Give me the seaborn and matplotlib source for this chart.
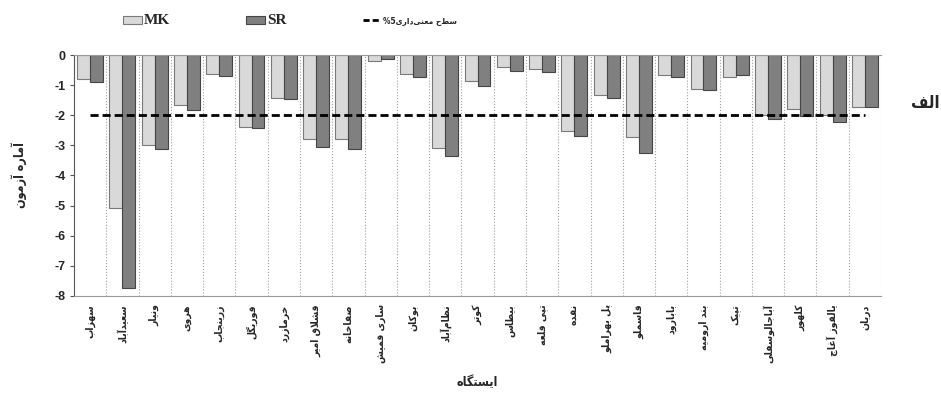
import numpy as np
import pandas as pd
import matplotlib
matplotlib.use("Agg")
import matplotlib.pyplot as plt
from matplotlib.patches import Patch
from matplotlib.lines import Line2D
import seaborn as sns

# station names (logical order, Persian)
stations = [
    "سهزاب", "سعیدآباد", "ونیار", "هروی", "زرینجاب", "قوریگل", "خرمازرد",
    "قشلاق امیر", "صفاخانه", "ساری قمیش", "بوکان", "نظام‌آباد", "کوتر",
    "بیطاس", "تپی قلعه", "نقده", "پل بهراملو", "قاسملو", "بابارود",
    "بند ارومیه", "تپیک", "آباجالوسفلی", "کلهور", "یالقوز آغاج", "دریان",
]
mk_values = [-0.78, -5.08, -2.99, -1.66, -0.63, -2.38, -1.42, -2.80, -2.80,
             -0.19, -0.62, -3.10, -0.85, -0.41, -0.45, -2.52, -1.34, -2.71,
             -0.68, -1.13, -0.72, -1.98, -1.80, -2.00, -1.72]
sr_values = [-0.90, -7.73, -3.12, -1.83, -0.70, -2.44, -1.46, -3.06, -3.12,
             -0.13, -0.72, -3.34, -1.02, -0.54, -0.55, -2.68, -1.42, -3.27,
             -0.72, -1.17, -0.65, -2.12, -2.03, -2.21, -1.72]
sig_level = -2
y_ticks = [0, -1, -2, -3, -4, -5, -6, -7, -8]

# arabic presentation forms: isolated, final, initial, medial
FORMS = {
    "ا": ("\uFE8D", "\uFE8E", None, None),
    "آ": ("\uFE81", "\uFE82", None, None),
    "ب": ("\uFE8F", "\uFE90", "\uFE91", "\uFE92"),
    "پ": ("\uFB56", "\uFB57", "\uFB58", "\uFB59"),
    "ت": ("\uFE95", "\uFE96", "\uFE97", "\uFE98"),
    "ج": ("\uFE9D", "\uFE9E", "\uFE9F", "\uFEA0"),
    "خ": ("\uFEA5", "\uFEA6", "\uFEA7", "\uFEA8"),
    "د": ("\uFEA9", "\uFEAA", None, None),
    "ر": ("\uFEAD", "\uFEAE", None, None),
    "ز": ("\uFEAF", "\uFEB0", None, None),
    "س": ("\uFEB1", "\uFEB2", "\uFEB3", "\uFEB4"),
    "ش": ("\uFEB5", "\uFEB6", "\uFEB7", "\uFEB8"),
    "ص": ("\uFEB9", "\uFEBA", "\uFEBB", "\uFEBC"),
    "ط": ("\uFEC1", "\uFEC2", "\uFEC3", "\uFEC4"),
    "ظ": ("\uFEC5", "\uFEC6", "\uFEC7", "\uFEC8"),
    "ع": ("\uFEC9", "\uFECA", "\uFECB", "\uFECC"),
    "غ": ("\uFECD", "\uFECE", "\uFECF", "\uFED0"),
    "ف": ("\uFED1", "\uFED2", "\uFED3", "\uFED4"),
    "ق": ("\uFED5", "\uFED6", "\uFED7", "\uFED8"),
    "ک": ("\uFB8E", "\uFB8F", "\uFB90", "\uFB91"),
    "گ": ("\uFB92", "\uFB93", "\uFB94", "\uFB95"),
    "ل": ("\uFEDD", "\uFEDE", "\uFEDF", "\uFEE0"),
    "م": ("\uFEE1", "\uFEE2", "\uFEE3", "\uFEE4"),
    "ن": ("\uFEE5", "\uFEE6", "\uFEE7", "\uFEE8"),
    "ه": ("\uFEE9", "\uFEEA", "\uFEEB", "\uFEEC"),
    "و": ("\uFEED", "\uFEEE", None, None),
    "ی": ("\uFBFC", "\uFBFD", "\uFBFE", "\uFBFF"),
    "ي": ("\uFEF1", "\uFEF2", "\uFEF3", "\uFEF4"),
}
LAM_ALEF = {"ا": ("\uFEFB", "\uFEFC"), "آ": ("\uFEF5", "\uFEF6")}


def joins_next(c):
    return c in FORMS and FORMS[c][2] is not None


def shape(text):
    """Return text shaped and reversed for left-to-right drawing."""
    out = []
    i = 0
    while i < len(text):
        c = text[i]
        prev = text[i - 1] if i > 0 else ""
        nxt = text[i + 1] if i + 1 < len(text) else ""
        if c not in FORMS:
            if c != "\u200c":
                out.append(c)
            i += 1
            continue
        p = joins_next(prev) and out and out[-1] != " "
        if c == "ل" and nxt in LAM_ALEF:
            out.append(LAM_ALEF[nxt][1 if p else 0])
            i += 2
            continue
        n = joins_next(c) and nxt in FORMS
        iso, fin, ini, med = FORMS[c]
        if p and n:
            out.append(med)
        elif p:
            out.append(fin)
        elif n:
            out.append(ini)
        else:
            out.append(iso)
        i += 1
    return "".join(reversed(out))


sns.set_style("white")
plt.rcParams["font.family"] = ["Liberation Sans", "DejaVu Sans"]
plt.rcParams["font.weight"] = "bold"
arabic = dict(family=["DejaVu Sans"], stretch="condensed", weight="bold")

df = pd.DataFrame({
    "station": stations * 2,
    "value": mk_values + sr_values,
    "test": ["MK"] * len(stations) + ["SR"] * len(stations),
})

fig = plt.figure(figsize=(9.41, 3.93), dpi=100)
ax = fig.add_axes([0.0786, 0.247, 0.8577, 0.613])

sns.barplot(
    data=df, x="station", y="value", hue="test",
    palette={"MK": "#d9d9d9", "SR": "#808080"},
    width=0.8, linewidth=0.8, saturation=1, ax=ax, legend=False,
)
for cont, ec in zip(ax.containers, ["#7a7a7a", "#454545"]):
    for bar in cont:
        bar.set_edgecolor(ec)

pos = np.arange(len(stations))
ax.plot(pos, np.full(len(stations), sig_level), color="black", lw=2.0,
        linestyle=(0, (2.9, 1.45)), zorder=5)

for b in pos:
    ax.axvline(b + 0.5, color="#a0a0a0", lw=0.8, linestyle=":", zorder=0)

ax.set_xlim(-0.5, len(stations) - 0.5)
ax.set_ylim(-8, 0)
ax.set_yticks(y_ticks)
ax.set_yticklabels([str(v) for v in y_ticks], fontsize=9, fontweight="bold")
ax.set_xticks(pos)
ax.set_xticklabels([shape(s) for s in stations], rotation=90, fontsize=7.5,
                   **arabic)
ax.tick_params(axis="x", length=0, pad=6)
ax.tick_params(axis="y", length=3, width=0.8, color="#555555", pad=3, left=True)

for side in ["top", "bottom"]:
    ax.spines[side].set_color("#999999")
    ax.spines[side].set_linewidth(0.8)
ax.spines["left"].set_color("#555555")
ax.spines["left"].set_linewidth(0.8)
ax.spines["right"].set_visible(False)

ax.set_xlabel(shape("ایستگاه"), fontsize=9, **arabic)
ax.xaxis.set_label_coords(0.5, -0.33)
ax.set_ylabel(shape("آماره آزمون"), fontsize=9, **arabic)
ax.yaxis.set_label_coords(-0.058, 0.5)

fig.text(925 / 941, 1 - 103 / 393, shape("الف"), fontsize=12,
         ha="center", va="center", **arabic)

handles = [
    Patch(facecolor="#d9d9d9", edgecolor="#7a7a7a", linewidth=0.8),
    Patch(facecolor="#808080", edgecolor="#454545", linewidth=0.8),
    Line2D([0], [0], color="black", lw=2.0, linestyle=(0, (2.2, 1.1))),
]
labels = ["MK", "SR", "%5" + shape("سطح معنی‌داری")]
leg = fig.legend(handles, labels, loc="center left",
                 bbox_to_anchor=(0.119, 0.947), ncol=3, frameon=False,
                 columnspacing=6.1, handlelength=1.5, handleheight=0.6,
                 handletextpad=0.15, fontsize=9)
for t in leg.get_texts()[:2]:
    t.set_fontfamily("Liberation Serif")
    t.set_fontweight("bold")
    t.set_fontsize(11)
leg.get_texts()[2].set_fontproperties(dict(arabic, size=6))

fig.savefig("out.png", dpi=100)
